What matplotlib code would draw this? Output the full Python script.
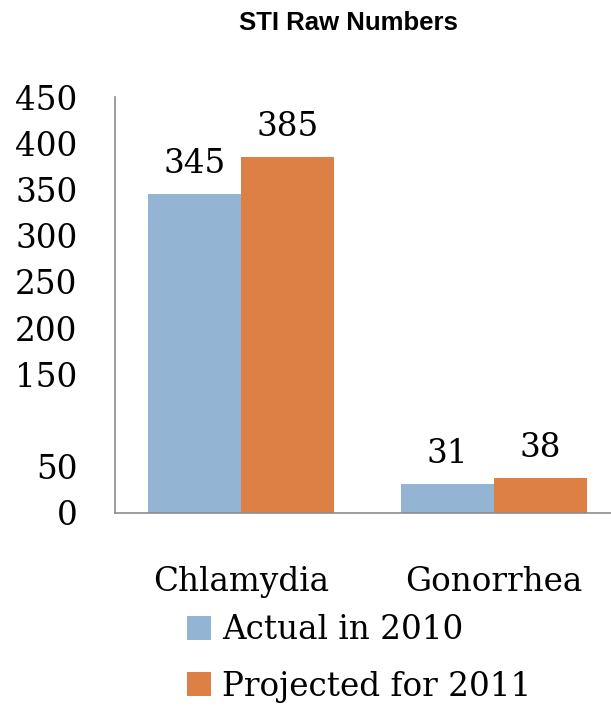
# Bar chart of STI counts: actual 2010 vs projected 2011
import numpy as np
from matplotlib import pyplot as plt

categories = ["Chlamydia", "Gonorrhea"]
actual_2010 = [345, 31]
projected_2011 = [385, 38]
series_names = ["Actual in 2010", "Projected for 2011"]
y_ticks = [0, 50, 150, 200, 250, 300, 350, 400, 450]

BLUE = "#93B4D3"
ORANGE = "#DD8045"
SERIF = "DejaVu Serif"
FS = 23.5

fig = plt.figure(figsize=(6.11, 7.07), dpi=100)
ax = fig.add_axes([0.188, 0.2744, 0.827, 0.5884])

x = np.arange(len(categories))
width = 0.367
bars_a = ax.bar(x - width / 2, actual_2010, width, color=BLUE, label=series_names[0])
bars_p = ax.bar(x + width / 2, projected_2011, width, color=ORANGE, label=series_names[1])

for bars, values in [(bars_a, actual_2010), (bars_p, projected_2011)]:
    for b, v in zip(bars, values):
        ax.annotate(str(v), (b.get_x() + b.get_width() / 2, v), xytext=(0, 10),
                    textcoords="offset points", ha="center", va="bottom",
                    fontsize=FS, family=SERIF)

ax.set_xlim(-0.5, 1.5)
ax.set_ylim(0, 450)
ax.set_yticks(y_ticks)
ax.set_yticklabels([str(t) for t in y_ticks], family=SERIF, fontsize=FS)
ax.set_xticks(x)
ax.set_xticklabels(categories, family=SERIF, fontsize=FS)
ax.tick_params(axis="y", length=0, pad=27)
ax.tick_params(axis="x", length=0, pad=38)

for side in ["top", "right"]:
    ax.spines[side].set_visible(False)
for side in ["left", "bottom"]:
    ax.spines[side].set_color("#8c8c8c")
    ax.spines[side].set_linewidth(1.2)

fig.text(0.57, 0.968, "STI Raw Numbers", ha="center", va="center",
         fontsize=18.5, fontweight="bold", family="Liberation Sans")

fig.legend(loc="upper left", bbox_to_anchor=(0.306, 0.131), frameon=False,
           prop={"family": SERIF, "size": FS}, handlelength=0.74, handleheight=0.74,
           handletextpad=0.34, labelspacing=0.74, borderpad=0, borderaxespad=0)

fig.savefig("out.png", dpi=100)
